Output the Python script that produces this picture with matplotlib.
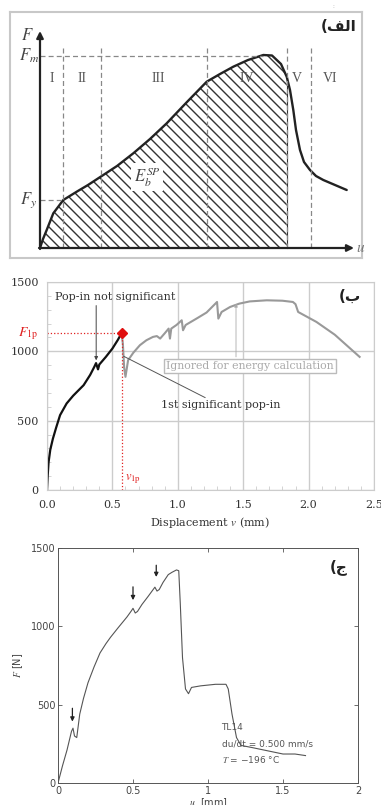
import numpy as np
import matplotlib
matplotlib.use('Agg')
import matplotlib.pyplot as plt
from matplotlib.ticker import MultipleLocator, FixedLocator
from matplotlib.collections import LineCollection

plt.rcParams['mathtext.fontset'] = 'stix'

# ---- panel a (schematic), values in drawing units
sch_u = [0, 3, 6.7, 13.3, 23.3, 36.7, 48, 60.7, 77, 93.3, 110, 126.7, 146, 166.7,
         180, 193.3, 208, 223.3, 232, 241, 246.7, 250, 253.3, 256, 260, 264, 270,
         276, 283.3, 295, 306.7]
sch_F = [0, 9, 18, 34.7, 48, 56.3, 63, 71.3, 82, 94.7, 109, 124.7, 145, 166.3,
         174, 181.3, 188, 193, 192.5, 184, 171.3, 158, 138, 118, 98, 86, 78,
         72, 68, 63, 58]
zone_bounds = [23, 61, 167, 247, 271]
zone_names = ['I', 'II', 'III', 'IV', 'V', 'VI']
zone_label_u = [12, 42, 118, 207, 257, 290]
F_max = 192
F_yield = 48

# ---- panel b
blk_v = [0, 0.005, 0.012, 0.025, 0.045, 0.07, 0.1, 0.15, 0.2, 0.28, 0.33, 0.36,
         0.375, 0.39, 0.40, 0.45, 0.5, 0.54, 0.57]
blk_F = [0, 100, 200, 290, 370, 450, 540, 624, 680, 756, 830, 885, 915, 870,
         905, 960, 1020, 1080, 1130]
gry_v = [0.57, 0.58, 0.59, 0.6, 0.62, 0.66, 0.71, 0.76, 0.81, 0.84, 0.865, 0.9, 0.93,
         0.94, 0.95, 0.99, 1.03, 1.04, 1.06, 1.15, 1.22, 1.30, 1.31, 1.335, 1.4,
         1.47, 1.55, 1.68, 1.8, 1.88, 1.9, 1.92, 2.06, 2.2, 2.39]
gry_F = [1130, 1056, 880, 816, 936, 990, 1044, 1080, 1104, 1110, 1092, 1130, 1164,
         1092, 1164, 1190, 1224, 1152, 1190, 1240, 1280, 1356, 1236, 1284, 1320,
         1344, 1360, 1368, 1365, 1356, 1340, 1284, 1212, 1120, 960]
v_1p = 0.57
F_1p = 1130

# ---- panel c
u3 = [0, 0.03, 0.06, 0.09, 0.1, 0.11, 0.125, 0.145, 0.17, 0.2, 0.24, 0.28, 0.32,
      0.35, 0.4, 0.46, 0.49, 0.5, 0.515, 0.53, 0.56, 0.6, 0.646, 0.66, 0.675, 0.7,
      0.735, 0.76, 0.79, 0.805, 0.815, 0.83, 0.85, 0.87, 0.89, 0.95, 1.05, 1.12,
      1.135, 1.16, 1.19, 1.22, 1.3, 1.4, 1.5, 1.58, 1.65]
F3 = [0, 110, 210, 330, 350, 300, 290, 440, 540, 640, 740, 830, 890, 930, 990, 1060,
      1100, 1115, 1085, 1095, 1140, 1190, 1250, 1225, 1235, 1280, 1330, 1345, 1360,
      1355, 1150, 800, 600, 570, 610, 620, 630, 630, 600, 440, 290, 240, 225, 205,
      185, 185, 175]
arrow_u = [0.096, 0.5, 0.655]
arrow_top = [477, 1252, 1390]
arrow_tip = [392, 1167, 1315]
c_notes = ['TL14', 'du/dt = 0.500 mm/s', '$T$ = \u2212196 \u00b0C']
c_note_F = [356, 250, 153]

fig = plt.figure(figsize=(3.81, 8.05), dpi=100)

# ================= panel a
ax1 = fig.add_axes([10/381, 1-258/805, 352/381, 246/805])
ax1.set_xlim(-30, 322)
ax1.set_ylim(-10, 236)
ax1.set_xticks([])
ax1.set_yticks([])
for s in ax1.spines.values():
    s.set_color('#c8c8c8')
    s.set_linewidth(1.5)

n_fill = sum(1 for u in sch_u if u <= 247)
area = ax1.fill_between(sch_u[:n_fill], 0, sch_F[:n_fill], facecolor='none',
                        edgecolor='none', linewidth=0)
# diagonal hatching, 10 px apart, clipped to the area under the curve
offs = np.arange(0, 520, 10)
hatch = LineCollection([[(c - 260, 260), (c, 0)] for c in offs],
                       colors='#333333', linewidths=1.0)
ax1.add_collection(hatch)
hatch.set_clip_path(area.get_paths()[0], ax1.transData)
ax1.plot([sch_u[n_fill-1]]*2, [0, sch_F[n_fill-1]], color='#333333', lw=0.8)
ax1.plot(sch_u, sch_F, color='#222222', lw=1.7, solid_capstyle='round',
         solid_joinstyle='round')

for b in zone_bounds:
    ax1.plot([b, b], [0, 203], color='#888888', lw=0.9, ls=(0, (4, 2.5)))
ax1.plot([0, 223], [F_max, F_max], color='#888888', lw=0.9, ls=(0, (4, 2.5)))
ax1.plot([0, 23], [F_yield, F_yield], color='#888888', lw=0.9, ls=(0, (4, 2.5)))

for name, xu in zip(zone_names, zone_label_u):
    ax1.text(xu, 170, name, ha='center', va='center', fontsize=10,
             family='Liberation Serif', color='#555555')

ax1.annotate('', xy=(0, 217), xytext=(0, -1),
             arrowprops=dict(arrowstyle='-|>', color='#222222', lw=1.6,
                             mutation_scale=10, shrinkA=0, shrinkB=0))
ax1.annotate('', xy=(314, 0), xytext=(-1, 0),
             arrowprops=dict(arrowstyle='-|>', color='#222222', lw=1.6,
                             mutation_scale=10, shrinkA=0, shrinkB=0))
ax1.text(-13, 213, '$F$', ha='center', va='center', fontsize=12, color='#444444')
ax1.text(-1, 192, '$F_m$', ha='right', va='center', fontsize=12, color='#444444')
ax1.text(-3, 48, '$F_y$', ha='right', va='center', fontsize=12, color='#444444')
ax1.text(316, 0, '$u$', ha='left', va='center', fontsize=11, color='#777777')
ax1.text(107, 71, '$E_b^{SP}$', ha='center', va='center', fontsize=12,
         color='#444444', zorder=5,
         bbox=dict(boxstyle='square,pad=0.15', fc='white', ec='none'))
ax1.text(317, 222, '(\ufed2\ufedf\u0627', ha='right', va='center', fontsize=11,
         family=['DejaVu Sans'], fontweight='bold', color='#222222')
fig.text(333/381, 1-6/805, ':', fontsize=4, color='#999999', ha='center',
         va='center')

# ================= panel b
ax2 = fig.add_axes([47/381, 1-490/805, 327/381, 208/805])
ax2.set_xlim(0, 2.5)
ax2.set_ylim(0, 1500)
ax2.grid(True, color='#cccccc', lw=1.0)
ax2.set_axisbelow(True)
for s in ax2.spines.values():
    s.set_color('#cccccc')
ax2.xaxis.set_minor_locator(MultipleLocator(0.1))
ax2.yaxis.set_minor_locator(MultipleLocator(100))
ax2.set_xticks([0, 0.5, 1.0, 1.5, 2.0, 2.5])
ax2.set_xticklabels(['0.0', '0.5', '1.0', '1.5', '2.0', '2.5'],
                    family='DejaVu Serif')
ax2.set_yticks([0, 500, 1000, 1500])
ax2.set_yticklabels(['0', '500', '1000', '1500'], family='DejaVu Serif')
ax2.tick_params(which='both', direction='in', color='#cccccc', labelsize=8,
                labelcolor='#333333', length=0)
ax2.tick_params(which='minor', length=3)
ax2.tick_params(axis='x', pad=7)
ax2.tick_params(axis='y', pad=6)
ax2.set_xlabel('Displacement $v$ (mm)', family='DejaVu Serif', fontsize=8,
               color='#333333', labelpad=4)

ax2.plot(gry_v, gry_F, color='#999999', lw=1.5)
ax2.plot(blk_v, blk_F, color='#111111', lw=1.6)
ax2.plot([0, v_1p], [F_1p, F_1p], color='#e02020', lw=0.9, ls=':')
ax2.plot([v_1p, v_1p], [0, F_1p], color='#e02020', lw=0.9, ls=':')
ax2.plot([v_1p], [F_1p], marker='D', color='#e01010', markersize=5)
ax2.text(-0.07, F_1p, '$F_{\\mathrm{1p}}$', color='#e02020', fontsize=10,
         ha='right', va='center', clip_on=False)
ax2.text(v_1p + 0.03, 80, '$v_{\\mathrm{1p}}$', color='#e02020', fontsize=9,
         ha='left', va='center')

ax2.text(0.52, 1390, 'Pop-in not significant', family='DejaVu Serif',
         fontsize=8, color='#333333', ha='center', va='center')
ax2.annotate('', xy=(0.376, 935), xytext=(0.376, 1330),
             arrowprops=dict(arrowstyle='-|>', color='#444444', lw=0.7,
                             mutation_scale=5, shrinkA=0, shrinkB=0))
ax2.annotate('1st significant pop-in', xy=(0.585, 965), xytext=(0.87, 610),
             family='DejaVu Serif', fontsize=8, color='#333333',
             ha='left', va='center',
             arrowprops=dict(arrowstyle='-', color='#555555', lw=0.7,
                             shrinkA=0, shrinkB=0))
ax2.annotate('', xy=(1.445, 1345), xytext=(1.445, 960),
             arrowprops=dict(arrowstyle='-|>', color='#aaaaaa', lw=0.6,
                             mutation_scale=5, shrinkA=0, shrinkB=0))
ax2.text(1.55, 893, 'Ignored for energy calculation', family='DejaVu Serif',
         fontsize=7.8, color='#aaaaaa', ha='center', va='center',
         bbox=dict(boxstyle='square,pad=0.2', fc='white', ec='#bbbbbb', lw=1.0))
ax2.text(2.4, 1400, '(\ufe8f', ha='right', va='center', fontsize=11,
         family=['DejaVu Sans'], fontweight='bold', color='#222222')

# ================= panel c
ax3 = fig.add_axes([58/381, 1-783/805, 300/381, 235/805])
ax3.set_xlim(0, 2)
ax3.set_ylim(0, 1500)
for s in ax3.spines.values():
    s.set_color('#555555')
    s.set_linewidth(0.7)
ax3.xaxis.set_major_locator(FixedLocator([0, 0.5, 1, 1.5, 2]))
ax3.set_xticklabels(['0', '0.5', '1', '1.5', '2'])
ax3.set_yticks([0, 500, 1000, 1500])
ax3.tick_params(direction='in', top=True, right=True, length=3, width=0.6,
                color='#555555', labelsize=7, labelcolor='#444444', pad=2)
ax3.set_xlabel('$u$  [mm]', fontsize=7, color='#444444', labelpad=0)
ax3.set_ylabel('$F$ [N]', fontsize=7, color='#444444', labelpad=4)

ax3.plot(u3, F3, color='#555555', lw=0.8)
for xa, yt, yb in zip(arrow_u, arrow_top, arrow_tip):
    ax3.annotate('', xy=(xa, yb), xytext=(xa, yt),
                 arrowprops=dict(arrowstyle='-|>', color='#222222', lw=0.9,
                                 mutation_scale=6, shrinkA=0, shrinkB=0))
for note, yn in zip(c_notes, c_note_F):
    ax3.text(1.09, yn, note, fontsize=6.5, color='#555555', ha='left',
             va='center')
ax3.text(1.93, 1380, '(\ufe9d', ha='right', va='center', fontsize=11,
         family=['DejaVu Sans'], fontweight='bold', color='#222222')

fig.savefig('out.png', dpi=100)
